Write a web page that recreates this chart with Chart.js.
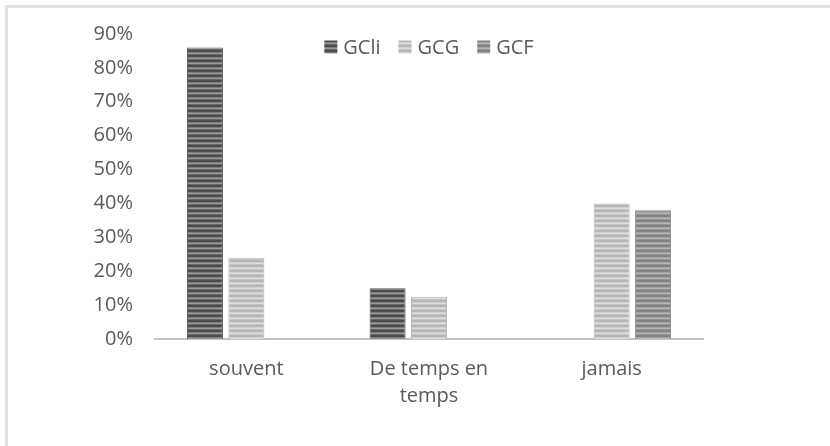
<!DOCTYPE html>
<html>
<head>
<meta charset="utf-8">
<script src="https://cdn.jsdelivr.net/npm/chart.js@4/dist/chart.umd.min.js"></script>
<style>
  html, body { margin: 0; padding: 0; background: #fff; }
  #wrap { position: relative; width: 830px; height: 446px; overflow: hidden; }
  #frame { position: absolute; left: 5px; top: 5px; right: 0; bottom: 0;
           border-top: 3px solid #e2e2e2; border-left: 3px solid #e2e2e2; pointer-events: none; }
  canvas { position: absolute; left: 0; top: 0; }
</style>
</head>
<body>
<div id="wrap">
  <canvas id="c" width="830" height="446"></canvas>
  <div id="frame"></div>
</div>
<script>
// ---- data ----
const categories = [['souvent'], ['De temps en', 'temps'], ['jamais']];
const seriesNames = ['GCli', 'GCG', 'GCF'];
const gcliValues = [86, 15, 0];
const gcgValues = [24, 12.5, 40];
const gcfValues = [0, 0, 38];
const yTicks = [0, 10, 20, 30, 40, 50, 60, 70, 80, 90];

// ---- striped fills ----
function stripes(rows) {
  const c = document.createElement('canvas');
  c.width = 1; c.height = rows.length;
  const g = c.getContext('2d');
  rows.forEach((col, i) => { g.fillStyle = col; g.fillRect(0, i, 1, 1); });
  return document.getElementById('c').getContext('2d').createPattern(c, 'repeat');
}
const fills = [
  stripes(['#4c4c4c', '#4c4c4c', '#7c7c7c', '#9a9a9a', '#666666']),
  stripes(['#b6b6b6', '#b6b6b6', '#d0d0d0', '#dedede', '#c4c4c4']),
  stripes(['#838383', '#838383', '#a3a3a3', '#b6b6b6', '#949494'])
];
const edges = ['#555555', '#b8b8b8', '#888888'];

const FONT = "'Open Sans', 'DejaVu Sans', sans-serif";
const TEXT = '#5a5a5a';

// custom legend drawn inside the plot area, centred over it
const overlayLegend = {
  id: 'overlayLegend',
  afterDraw(chart) {
    const ctx = chart.ctx;
    const area = chart.chartArea;
    ctx.save();
    ctx.font = '20px ' + FONT;
    ctx.textBaseline = 'middle';
    const box = 13, gapBox = 6, gapItem = 18;
    const items = chart.data.datasets.map((d, i) => ({
      label: d.label, fill: d.backgroundColor, w: box + gapBox + ctx.measureText(d.label).width
    }));
    const total = items.reduce((s, it) => s + it.w, 0) + gapItem * (items.length - 1);
    let x = (area.left + area.right) / 2 - total / 2;
    const y = area.top + 13;
    items.forEach(it => {
      ctx.fillStyle = it.fill;
      ctx.fillRect(x, y - box / 2, box, box);
      ctx.fillStyle = TEXT;
      ctx.textAlign = 'left';
      ctx.fillText(it.label, x + box + gapBox, y + 1);
      x += it.w + gapItem;
    });
    ctx.restore();
  }
};

const values = [gcliValues, gcgValues, gcfValues];

new Chart(document.getElementById('c'), {
  type: 'bar',
  data: {
    labels: categories,
    datasets: seriesNames.map((n, i) => ({
      label: n,
      data: values[i],
      backgroundColor: fills[i],
      borderColor: edges[i],
      borderWidth: 1,
      categoryPercentage: 0.68,
      barPercentage: 0.87
    }))
  },
  options: {
    responsive: false,
    animation: false,
    layout: { padding: { top: 34, right: 127, bottom: 0, left: 0 } },
    plugins: { legend: { display: false }, tooltip: { enabled: false } },
    scales: {
      x: {
        grid: { display: false, drawTicks: false },
        border: { display: true, color: '#c2c2c2', width: 2 },
        ticks: { color: TEXT, font: { family: FONT, size: 20, lineHeight: 1.35 }, padding: 17, maxRotation: 0, autoSkip: false },
        afterFit(s) { s.height = 107; }
      },
      y: {
        min: 0, max: 90,
        grid: { display: false, drawTicks: false },
        border: { display: false },
        afterBuildTicks(s) { s.ticks = yTicks.map(v => ({ value: v })); },
        ticks: { color: TEXT, font: { family: FONT, size: 20 }, padding: 22, callback: v => v + '%' },
        afterFit(s) { s.width = 155; }
      }
    }
  },
  plugins: [overlayLegend]
});
</script>
</body>
</html>
